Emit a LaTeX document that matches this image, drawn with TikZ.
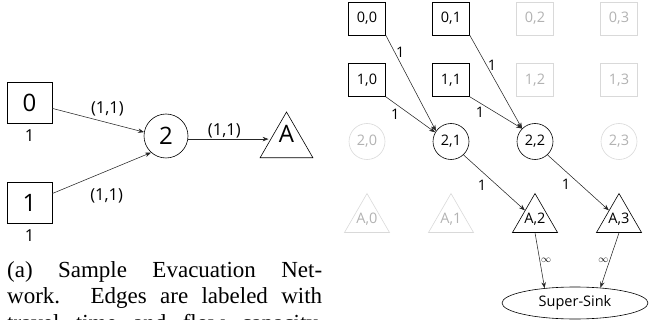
\documentclass[tikz,border=0pt]{standalone}
\usepackage{fontspec}
\setmainfont{Liberation Serif}
\newfontfamily\nodefont{Open Sans}
\usetikzlibrary{matrix,positioning,shapes.geometric,arrows.meta}

\tikzset{
  flow/.style={draw=black!85, line width=0.55pt, -{Stealth[length=6pt,width=4.5pt]}},
  big/.style={draw, line width=0.6pt, font=\nodefont\fontsize{24}{28}\selectfont},
  lbl/.style={font=\nodefont\fontsize{16.5}{20}\selectfont, inner sep=1pt},
  small/.style={font=\nodefont\fontsize{14.5}{17}\selectfont, inner sep=1pt}
}

\begin{document}
\begin{tikzpicture}[x=1pt, y=-1pt]
    \useasboundingbox (0,0) rectangle (650,320);

    % sample network
    \node[big, minimum width=45pt, minimum height=41pt] (n0) at (29.5,102.5) {0};
    \node[big, minimum width=45pt, minimum height=41pt] (n1) at (29.5,203) {1};
    \node[lbl, below=5pt of n0] (w0) {1};
    \node[lbl, below=5pt of n1] (w1) {1};
    \node[big, circle, minimum size=44pt, inner sep=0pt] (n2) at (166,136) {2};
    \node[big, regular polygon, regular polygon sides=3, minimum size=61pt,
          inner sep=-8pt, text depth=17pt] (nA) at (286.5,142.5) {A};

    \draw[flow] (n0) -- node[lbl, pos=.6, above=5pt] {(1,1)} (n2.170);
    \draw[flow] (n1) -- node[lbl, pos=.55, below=16pt] {(1,1)} (n2.228);
    \draw[flow] (n2.-8) -- node[lbl, pos=.45, above] {(1,1)} (n2.-8 -| nA.west);

    \node[anchor=north west, inner sep=0pt, text width=315pt, align=justify,
          font=\fontsize{23}{26.5}\selectfont] (cap) at (7,261.3)
      {(a) Sample Evacuation Net-\linebreak work. Edges are labeled with\linebreak travel time and flow capacity.\parfillskip=0pt\par};

    % time-expanded network
    \matrix (M) [matrix of nodes, matrix anchor=M-1-1.center,
        nodes={anchor=center, draw=black!15, text=black!30, line width=0.6pt,
               font=\nodefont\fontsize{14.5}{17}\selectfont},
        row 1/.style={nodes={rectangle, minimum width=37pt, minimum height=33pt}},
        row 2/.style={nodes={rectangle, minimum width=37pt, minimum height=33pt}},
        row 3/.style={nodes={circle, minimum size=36pt, inner sep=0pt}},
        row 4/.style={nodes={regular polygon, regular polygon sides=3, minimum size=52pt, inner sep=-4pt}},
        column sep={84pt,between origins}, row sep={61.5pt,between origins},
        a/.style={draw=black, text=black}
      ] at (367,18.5)
      {
        |[a]| 0,0 & |[a]| 0,1 & 0,2 & 0,3 \\
        |[a]| 1,0 & |[a]| 1,1 & 1,2 & 1,3 \\
        2,0 & |[a]| 2,1 & |[a]| 2,2 & 2,3 \\[16.5pt]
        A,0 & A,1 & |[a]| A,2 & |[a]| A,3 \\
      };
    \node[draw, ellipse, line width=0.6pt, minimum width=146pt, minimum height=32pt,
          font=\nodefont\fontsize{14.5}{17}\selectfont] (sink) at (575,303) {Super-Sink};

    \draw[flow] (M-1-1.south east) -- node[small, pos=.18, right] {1} (M-3-2.145);
    \draw[flow] (M-2-1.south east) -- node[small, pos=.3, below left] {1} (M-3-2.150);
    \draw[flow] (M-1-2.south east) -- node[small, pos=.32, right] {1} (M-3-3.135);
    \draw[flow] (M-2-2.south east) -- node[small, pos=.3, below left] {1} (M-3-3.135);
    \draw[flow] (M-3-2.-47) -- node[small, pos=.3, below=7pt] {1} (M-4-3);
    \draw[flow] (M-3-3.-47) -- node[small, pos=.3, below=6pt] {1} (M-4-4);
    \draw[flow] (M-4-3.south) -- node[right, inner sep=1pt, font=\fontsize{10}{12}\selectfont] {$\infty$} (sink.154);
    \draw[flow] (M-4-4.south) -- node[left, inner sep=1pt, font=\fontsize{10}{12}\selectfont] {$\infty$} (sink.31);
\end{tikzpicture}
\end{document}
